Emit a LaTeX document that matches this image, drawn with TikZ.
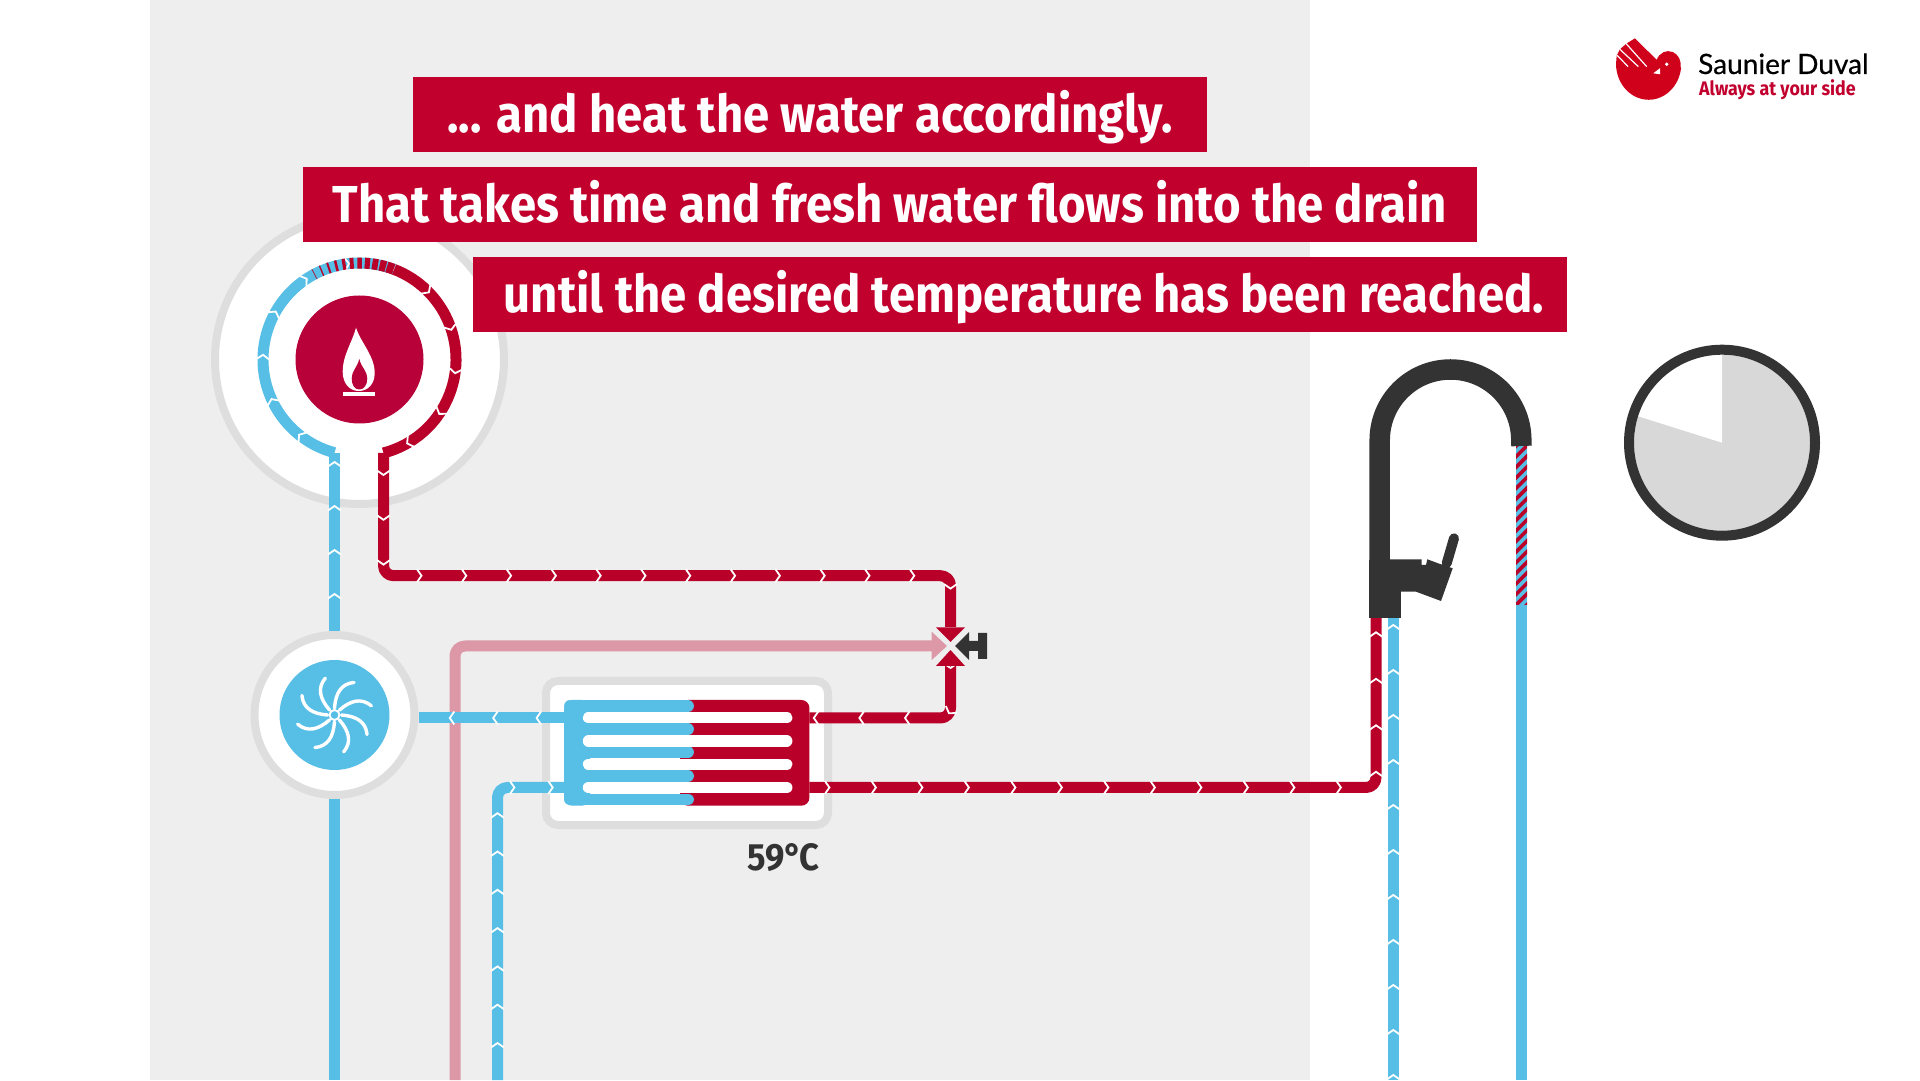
\documentclass[tikz,border=0pt]{standalone}
\usepackage{fontspec}
\usetikzlibrary{decorations.markings}
\setmainfont{Fira Sans}
\newfontfamily\captionfont[FakeStretch=0.91]{Fira Sans}
\newfontfamily\brandfont[FakeBold=0.5]{Lato}

\definecolor{cold}{HTML}{57BEE6}
\definecolor{hot}{HTML}{B90028}
\definecolor{mixed}{HTML}{DD98A8}
\definecolor{banner}{HTML}{C1002E}
\definecolor{burnerred}{HTML}{B80039}
\definecolor{panel}{HTML}{EEEEEE}
\definecolor{rim}{HTML}{DEDEDE}
\definecolor{tapdark}{HTML}{333333}
\definecolor{pie}{HTML}{D8D8D8}
\definecolor{brand}{HTML}{D0021B}

\tikzset{
	pipe/.style={draw=#1, line width=11pt, line join=round},
	flow/.style 2 args={
		postaction={decorate},
		decoration={markings, mark=between positions #1pt and 1 step #2pt with {
			\draw[white, line width=1.8pt, sharp corners, shorten <=0pt, shorten >=0pt, line join=miter]
				(-4.5pt,-6.5pt) -- (0pt,0pt) -- (-4.5pt,6.5pt);
		}}
	},
	captionbar/.style={fill=banner, text=white, inner sep=0pt, outer sep=0pt, minimum height=75pt,
		text height=44pt, text depth=8pt, font=\captionfont\fontsize{52}{60}\selectfont\bfseries},
	rimdisc/.style={circle, draw=rim, fill=white, line width=8pt, inner sep=0pt, outer sep=0pt},
}

\begin{document}
\begin{tikzpicture}[x=1pt, y=1pt]
	
	\useasboundingbox (0,0) rectangle (1920,1080);
	\def \ringr {96.5} % pipe radius round the burner
	
	\fill[panel] (150,0) rectangle (1310,1080);
	
	% named ends
	\coordinate (burnercold) at (334.5,627.3);
	\coordinate (burnerhot) at (383.5,627);
	\coordinate (coldmain) at (334.5,0);
	\coordinate (mixedmain) at (455,0);
	\coordinate (coldfeed) at (497.5,0);
	\coordinate (hotcorner) at (383.5,504.3);
	\coordinate (valvetop) at (950.5,504.3);
	\coordinate (valve) at (950.5,434);
	\coordinate (valvein) at (950.5,453);
	\coordinate (valveout) at (950.5,414);
	\coordinate (valvemix) at (932,434);
	\coordinate (hxcold) at (564,362);
	\coordinate (hxback) at (809.4,362);
	\coordinate (hxcoldin) at (564,292.5);
	\coordinate (hxhot) at (809.4,292.5);
	\coordinate (tapcorner) at (1376,292.5);
	\coordinate (taphot) at (1376,462.3);
	\coordinate (tapcoldbase) at (1393.3,0);
	\coordinate (tapcold) at (1393.3,462.3);
	\coordinate (drain) at (1521.5,0);
	\coordinate (spout) at (1521.5,634);
	
	% burner
	\node[rimdisc, minimum size=289pt] (burner) at (359.5,720.5) {};
	\node[circle, fill=burnerred, inner sep=0pt, minimum size=128pt] (flamedisc) at (burner.center) {};
	\fill[white] (356,752.3) .. controls (352,737) and (342.7,725) .. (342.7,708.3)
		.. controls (342.7,696) and (350,689) .. (358.7,689)
		.. controls (368,689) and (374.7,696) .. (374.7,707)
		.. controls (374.7,724) and (361,737) .. (356,752.3);
	\fill[burnerred] (359.3,721) .. controls (357,712) and (351.7,709) .. (351.7,701.7)
		.. controls (351.7,695) and (354.5,690.5) .. (359.3,690.5)
		.. controls (364,690.5) and (367.3,695) .. (367.3,701.7)
		.. controls (367.3,709) and (361.5,712) .. (359.3,721);
	\fill[white] (342.7,684.3) rectangle (375,687.7);
	
	% pipe ring
	\begin{scope}[shift={(burner.center)}]
		\draw[pipe=cold, flow={40}{45.5}] (255:\ringr) arc (255:69:\ringr);
		\draw[pipe=hot, flow={42}{44}] (69:\ringr) arc (69:-75.6:\ringr);
		\foreach \s in {0,...,10}
		{
			\pgfmathsetmacro{\a}{118-\s*4.45}
			\pgfmathsetmacro{\b}{\a-0.4-\s*0.38}
			\draw[hot, line width=11pt] (\a:\ringr) arc (\a:\b:\ringr);
		}
	\end{scope}
	
	% fan
	\node[rimdisc, minimum size=160pt] (fan) at (334.5,365) {};
	\node[circle, fill=cold, inner sep=0pt, minimum size=110pt] (fanhub) at (fan.center) {};
	\begin{scope}[shift={(fan.center)}]
		\foreach \a in {0,45,...,315}
		{
			\draw[white, line width=3.4pt, line cap=round] (\a:7) .. controls (\a-3:22) and (\a-12:32) .. (\a-31:38);
		}
		\draw[white, fill=cold, line width=2pt] (0,0) circle (5);
	\end{scope}
	
	% heat exchanger
	\node[draw=rim, fill=white, line width=8pt, rounded corners=12pt, inner sep=0pt, outer sep=0pt,
		minimum width=282pt, minimum height=144pt] (hxbox) at (687,327) {};
	
	% pipes
	\draw[pipe=cold, shorten <=4pt, flow={41}{44}] (fan.north) -- (burnercold);
	\draw[pipe=cold, shorten <=4pt] (fan.south) -- (coldmain);
	\draw[pipe=mixed, rounded corners=10pt] (mixedmain) -- (mixedmain |- valvemix) -- (valvemix);
	\draw[pipe=cold, shorten >=4pt, flow={27.4}{43.4}] (hxcold) -- (fan.east |- hxcold);
	\draw[pipe=cold, rounded corners=10pt, flow={37}{38.3}] (coldfeed) -- (coldfeed |- hxcoldin) -- (hxcoldin);
	\draw[pipe=hot, rounded corners=10pt, flow={22}{44.8}] (burnerhot) -- (hotcorner) -- (valvetop) -- (valvein);
	\draw[pipe=hot, rounded corners=10pt, flow={2}{45.6}] (valveout) -- (valveout |- hxback) -- (hxback);
	\draw[pipe=hot, rounded corners=10pt, flow={20}{46.5}] (hxhot) -- (tapcorner) -- (taphot);
	\draw[pipe=cold, flow={5}{45}] (tapcoldbase) -- (tapcold);
	\draw[pipe=cold] (drain) -- (spout);
	
	% exchanger core
	\fill[hot, rounded corners=8pt] (680,274.3) rectangle (809.4,380);
	\fill[cold, rounded corners=8pt] (564.2,274.3) rectangle (590,380);
	\foreach \y in {374,350.7,327.7,304,280.5}
	{
		\draw[cold, line width=11.8pt, line cap=round] (570,\y) -- (688,\y);
	}
	\foreach \y in {362.3,339,315.7,292.5}
	{
		\draw[white, line width=11.5pt, line cap=round] (588.5,\y) -- (786.7,\y);
	}
	\node[text=tapdark, font=\captionfont\fontsize{38}{42}\selectfont\bfseries] (temp) at (783.6,222) {59°\kern-3ptC};
	
	% valve
	\fill[hot] (936,452.7) -- (965,452.7) -- (950.5,438) -- cycle;
	\fill[hot] (936,414) -- (965,414) -- (950.5,430) -- cycle;
	\fill[mixed] (931.7,448.3) -- (931.7,420) -- (947,434) -- cycle;
	\fill[tapdark] (955,434) -- (969,448) -- (969,439) -- (978,439) -- (978,447) -- (987,447)
		-- (987,421) -- (978,421) -- (978,429) -- (969,429) -- (969,420) -- cycle;
	
	% spray out of the tap
	\begin{scope}
		\clip (1516,475) rectangle (1527,634);
		\foreach \s in {-1,...,15}
		{
			\draw[hot, line width=3.6pt] (1514,473+\s*10.6) -- (1529,488+\s*10.6);
		}
	\end{scope}
	
	% tap
	\draw[tapdark, line width=20.5pt] (1379.7,470) -- (1379.7,639.7) arc (180:0:70.8) -- (spout);
	\fill[tapdark] (1369.3,462.3) rectangle (1400.7,520);
	\fill[tapdark] (1390,520.7) -- (1421.7,520.7) -- (1421.7,515) -- (1426,515) -- (1427.3,520.7)
		-- (1440,516) -- (1452.7,511.7) -- (1441,479) -- (1416,488.3) -- (1390,488.3) -- cycle;
	\draw[tapdark, line width=10pt, line cap=round] (1446.7,516.7) -- (1454,541.7);
	
	% clock
	\fill[pie] (1722,637.3) circle (88);
	\fill[white, shift={(1722,637.3)}] (0,0) -- (0,88) arc (90:162.5:88) -- cycle;
	\draw[tapdark, line width=10pt] (1722,637.3) circle (93);
	
	% captions
	\node[captionbar, minimum width=794pt] (lineone) at (810,965.5) {... and heat the water accordingly.};
	\node[captionbar, minimum width=1174pt] (linetwo) at (890,875.5) {That takes time and fresh water flows into the drain};
	\node[captionbar, minimum width=1094pt] (linethree) at (1020,785.5) {\hspace{8pt}until the desired temperature has been reached.};
	
	% logo
	\begin{scope}[shift={(1609.6,1051.5)}, xscale=0.355, yscale=-0.393]
		\fill[brand] (18,90) -- (20,69) -- (29,53) -- (48,38) -- (71.5,25) -- (132.7,80)
			arc (201:370:35) -- (201.5,99) arc (6:180:92) -- cycle;
		\fill[white] (161,91) circle (5);
		\fill[white] (123,114) -- (142,101) -- (142,116.5) -- cycle;
		\draw[white, line width=1.2pt] (21,68) -- (52,97);
		\draw[white, line width=1.2pt] (29,53) -- (81,97);
		\draw[white, line width=1.2pt] (46,38) -- (104.5,97);
	\end{scope}
	\node[anchor=base west, inner sep=0pt, text=black, font=\brandfont\fontsize{28}{30}\selectfont] (brandname) at (1698,1006) {Saunier Duval};
	\node[anchor=base west, inner sep=0pt, text=banner, font=\captionfont\fontsize{19.6}{24}\selectfont\bfseries] (brandline) at (1699,984) {Always at your side};
	
\end{tikzpicture}
\end{document}
